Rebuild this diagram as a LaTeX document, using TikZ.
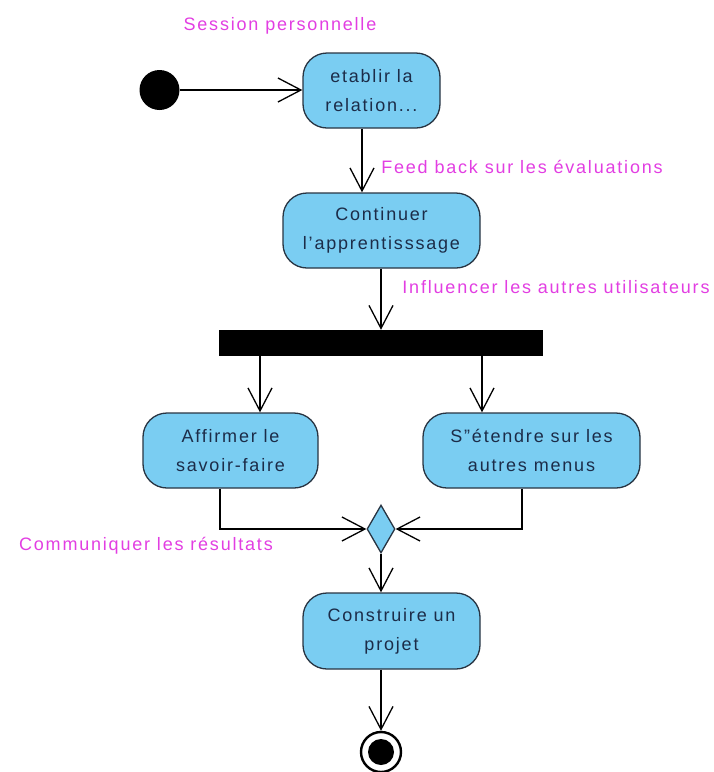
\documentclass[tikz,border=0pt]{standalone}
\usepackage{fontspec}
\setmainfont{Liberation Sans}[LetterSpace=10]
\usetikzlibrary{arrows.meta,shapes.geometric,positioning}
\definecolor{actfill}{RGB}{122,205,242}
\definecolor{actline}{RGB}{40,52,66}
\definecolor{acttext}{RGB}{28,44,72}
\definecolor{guard}{RGB}{226,62,226}
\tikzset{>={Straight Barb[length=23pt,width=24pt]}}
\tikzset{action/.style={draw=actline, line width=1.3pt, fill=actfill, rounded corners=24pt,
    align=center, text=acttext, font=\fontsize{18}{29}\selectfont, minimum height=75pt, inner sep=0pt}}
\tikzset{guardtxt/.style={text=guard, font=\fontsize{18}{22}\selectfont, inner sep=0pt}}
\tikzset{flow/.style={->, line width=1.3pt}}

\begin{document}
\begin{tikzpicture}[x=1pt,y=-1pt]
      \useasboundingbox (0,0) rectangle (714,772);
      \coordinate (xa) at (362,0);
      \coordinate (xl) at (260,0);
      \coordinate (xr) at (482,0);
      \coordinate (xl2) at (220,0);
      \coordinate (xr2) at (522,0);
      % nodes
      \node[circle, fill=black, minimum size=40pt, inner sep=0pt] (start) at (159.5,90) {};
      \node[action, minimum width=137pt] (etablir) at (371.5,90.5) {etablir la\\relation...};
      \node[action, minimum width=197pt] (cont) at (381.5,230.5) {Continuer\\l'apprentisssage};
      \node[fill=black, minimum width=324pt, minimum height=26pt, inner sep=0pt] (fork) at (381,343) {};
      \node[action, minimum width=175pt] (aff) at (230.5,450.5) {Affirmer le\\savoir-faire};
      \node[action, minimum width=217pt] (ext) at (531.5,450.5) {S"étendre sur les\\autres menus};
      \node[diamond, draw=actline, line width=1.3pt, fill=actfill, minimum width=28pt,
            minimum height=48pt, inner sep=0pt] (merge) at (381,529) {};
      \node[action, minimum width=177pt, minimum height=76pt] (proj) at (391.5,631) {Construire un\\projet};
      \node[circle, draw=black, line width=2.4pt, minimum size=40pt, inner sep=0pt] (end) at (381,752) {};
      \node[circle, fill=black, minimum size=26pt, inner sep=0pt] (endin) at (end) {};
      % labels
      \node[guardtxt] (lsession) at (280,26) {Session personnelle};
      \node[guardtxt] (lfeed) at (522,167) {Feed back sur les évaluations};
      \node[guardtxt] (linfl) at (556,287) {Influencer les autres utilisateurs};
      \node[guardtxt] (lcomm) at (146,546) {Communiquer les résultats};
      % flows
      \draw[flow] (start.east) -- (etablir.west |- start.east);
      \draw[flow] (etablir.south -| xa) -- (cont.north -| xa);
      \draw[flow] (cont.south -| fork.north) -- (fork.north);
      \draw[flow] (fork.south -| xl) -- (aff.north -| xl);
      \draw[flow] (fork.south -| xr) -- (ext.north -| xr);
      \draw[flow] (aff.south -| xl2) |- (merge.west);
      \draw[flow] (ext.south -| xr2) |- (merge.east);
      \draw[flow] (merge.south) -- (proj.north -| merge.south);
      \draw[flow] (proj.south -| end.north) -- (end.north);
\end{tikzpicture}
\end{document}
